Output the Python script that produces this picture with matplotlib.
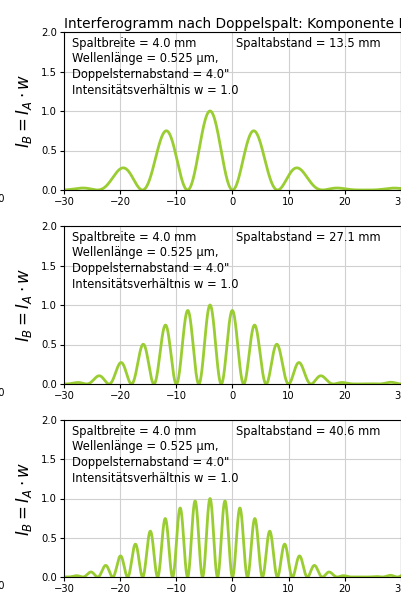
import numpy as np
import matplotlib
matplotlib.use("Agg")
import matplotlib.pyplot as plt

# Parameters shown in the chart
slit_width_mm = 4.0
wavelength_um = 0.525
star_sep_arcsec = 4.0
intensity_ratio = 1.0
slit_spacings_mm = [13.5, 27.1, 40.6]
x_ticks = [-30, -20, -10, 0, 10, 20, 30]
y_ticks = [0.0, 0.5, 1.0, 1.5, 2.0]
title = "Interferogramm nach Doppelspalt: Komponente B"

ARCSEC = np.pi / 180 / 3600

def intensity(theta_arcsec, d_mm):
    th = (theta_arcsec + star_sep_arcsec) * ARCSEC
    lam = wavelength_um * 1e-6
    b = slit_width_mm * 1e-3
    d = d_mm * 1e-3
    env = np.sinc(b * th / lam) ** 2
    fr = np.cos(np.pi * d * th / lam) ** 2
    return intensity_ratio * env * fr

W, H = 402, 594
fig = plt.figure(figsize=(W / 100, H / 100), dpi=100)

theta = np.linspace(-30, 30, 3000)
left = 64 / W
right = 401 / W
tops = [32, 226, 420]
bots = [190, 384, 577]
color = "#9acd32"

for i, d in enumerate(slit_spacings_mm):
    ax = fig.add_axes([left, 1 - bots[i] / H, right - left, (bots[i] - tops[i]) / H])
    ax.plot(theta, intensity(theta, d), color=color, lw=2.0)
    ax.set_xlim(-30, 30)
    ax.set_ylim(0, 2.0)
    ax.set_xticks(x_ticks)
    ax.set_yticks(y_ticks)
    ax.grid(True, color="#d0d0d0", lw=0.8)
    ax.tick_params(labelsize=7.2, length=3, pad=2)
    ax.set_ylabel(r"$I_B = I_A \cdot w$", fontsize=12, labelpad=5)
    txt = (f"Spaltbreite = {slit_width_mm:.1f} mm\n"
           f"Wellenlänge = {wavelength_um} µm,\n"
           f"Doppelsternabstand = {star_sep_arcsec:.1f}\"\n"
           f"Intensitätsverhältnis w = {intensity_ratio:.1f}")
    ax.text(0.025, 0.97, txt, transform=ax.transAxes, fontsize=8.3,
            va="top", ha="left", linespacing=1.27)
    ax.text(0.51, 0.97, f"Spaltabstand = {d} mm", transform=ax.transAxes,
            fontsize=8.3, va="top", ha="left")
    if i == 0:
        ax.set_title(title, fontsize=9.9, loc="left", pad=3)
    # fragment of neighbouring panel's tick label
    fig.text(0.012, 1 - (bots[i] + 9) / H, "30", fontsize=7.2, ha="right", va="center")

fig.savefig("out.png", dpi=100)
